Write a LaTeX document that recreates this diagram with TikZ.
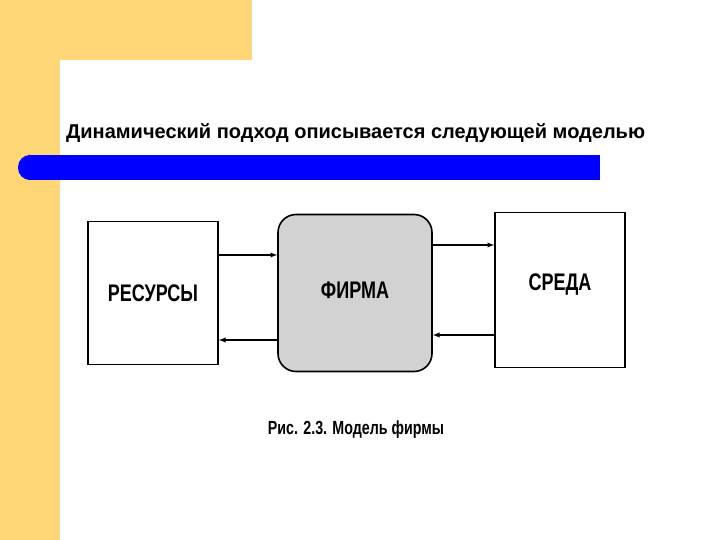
\documentclass[tikz,border=0pt]{standalone}
\usepackage{fontspec}
\setmainfont{Liberation Sans}
\begin{document}
\begin{tikzpicture}[x=1pt,y=-1pt,
  box/.style={draw=black,line width=1.6pt,fill=white},
  lbl/.style={font=\bfseries\fontsize{24}{26}\selectfont,xscale=0.75},
  arr/.style={-latex,line width=1.3pt}]
\useasboundingbox (0,0) rectangle (720,540);
\fill[white] (0,0) rectangle (720,540);
\definecolor{org}{HTML}{FFD675}
\fill[org] (0,0) rectangle (252,60);
\fill[org] (0,0) rectangle (60,540);
\fill[white,rounded corners=22pt] (60,60) rectangle (760,580);
\fill[blue,rounded corners=12pt] (18,155) rectangle (40,180);
\fill[blue] (30,155) rectangle (600,180);
\node[font=\bfseries\fontsize{20}{22}\selectfont,anchor=west,inner sep=0pt] (t) at (66,133) {Динамический подход описывается следующей моделью};
\node[box,minimum width=130pt,minimum height=143pt] (r) at (153,293) {};
\node[lbl] at (153,293) {РЕСУРСЫ};
\node[box,rounded corners=18pt,fill=gray!35,minimum width=154pt,minimum height=157pt] (f) at (355,293) {};
\node[lbl] at (355,290) {ФИРМА};
\node[box,minimum width=130pt,minimum height=155pt] (s) at (560,290) {};
\node[lbl] at (560,285) {СРЕДА};
\draw[arr] (r.east|-0,255) -- (f.west|-0,255);
\draw[arr] (f.west|-0,340) -- (r.east|-0,340);
\draw[arr] (f.east|-0,245) -- (s.west|-0,245);
\draw[arr] (s.west|-0,335) -- (f.east|-0,335);
\node[font=\bfseries\fontsize{19}{21}\selectfont,xscale=0.75] (c) at (356,430) {Рис. 2.3. Модель фирмы};
\end{tikzpicture}
\end{document}
